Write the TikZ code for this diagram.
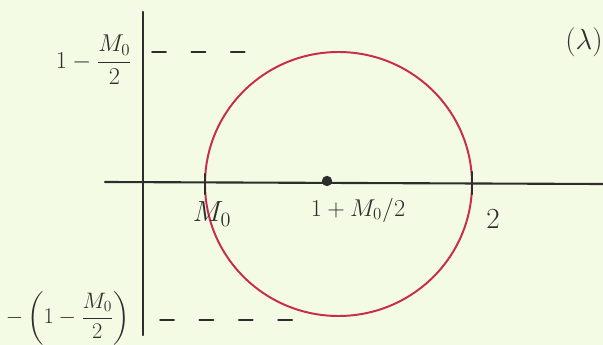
\documentclass[tikz,border=0pt]{standalone}
\usepackage{amsmath,amssymb}
\usepackage{xcolor}
\usetikzlibrary{positioning}
\definecolor{paper}{RGB}{244,251,228}
\definecolor{pen}{RGB}{45,45,45}
\definecolor{redpen}{RGB}{200,45,75}

\begin{document}
\begin{tikzpicture}[x=0.25mm, y=-0.25mm, font=\LARGE, line cap=round,
  axis/.style={draw=pen, line width=1.5pt},
  tick/.style={draw=pen, line width=1.5pt},
  lbl/.style={text=pen, inner sep=1pt},
  guide/.style={draw=pen, line width=1.2pt, dash pattern=on 10pt off 18pt},
  loop/.style={draw=redpen, line width=1.4pt}]
\fill[paper] (0,0) rectangle (603,345);
\useasboundingbox (0,0) rectangle (603,345);
% axes
\coordinate (xl) at (105,182);
\coordinate (xr) at (603,184);
\coordinate (yt) at (143,12);
\coordinate (yb) at (143,335);
\draw[axis] (xl) -- (xr);
\draw[axis] (yt) -- (yb);
% circle and centre
\node[circle, fill=pen, inner sep=2.6pt] (ctr) at (327,181) {};
\coordinate (rim) at (338.5,184);
\draw[loop] (rim) ellipse[x radius=133.5, y radius=132];
% ticks
\coordinate (tmo) at (205,182);
\coordinate (ttwo) at (472,182);
\draw[tick] ([yshift=2mm]tmo) -- ([yshift=-3mm]tmo);
\draw[tick] ([yshift=2.5mm]ttwo) -- ([yshift=-3mm]ttwo);
% labels
\node[lbl, font=\huge] (mo) at (212,214) {$M_0$};
\node[lbl] (mid) at (358,210) {$1+M_0/2$};
\node[lbl, font=\huge] (two) at (493,219) {$2$};
\node[lbl] (top) at (94,60) {$1-\dfrac{M_0}{2}$};
\node[lbl, scale=0.92] (bot) at (68,318) {$-\left(1-\dfrac{M_0}{2}\right)$};
\node[lbl, font=\huge] (lam) at (584,42) {$(\lambda)$};
% dashed levels
\coordinate (ta) at (152,52);
\coordinate (tb) at (262,52);
\coordinate (ba) at (160,320);
\coordinate (bb) at (310,320);
\draw[guide] (ta) -- (tb);
\draw[guide] (ba) -- (bb);
\end{tikzpicture}
\end{document}
